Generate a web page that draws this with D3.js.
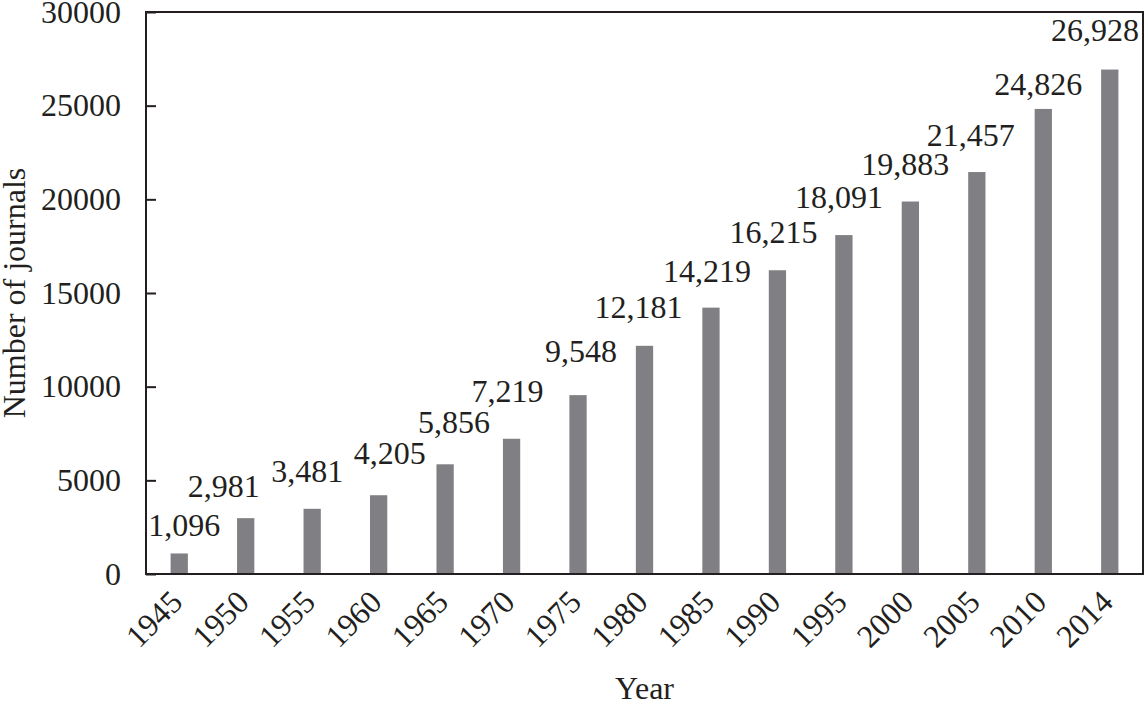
<!DOCTYPE html>
<html lang="en">

<head>
    <meta charset="UTF-8">
    <style>
        body { margin: 0; background: #fff; }
        text { font-family: "Liberation Serif", "Times New Roman", serif; fill: #231f20; }
    </style>
</head>

<body>
    <svg width="1145" height="703"></svg>
    <script src="https://d3js.org/d3.v7.min.js"></script>
    <script>
        // data
        let years = ["1945", "1950", "1955", "1960", "1965", "1970", "1975", "1980",
            "1985", "1990", "1995", "2000", "2005", "2010", "2014"]
        let journals = [1096, 2981, 3481, 4205, 5856, 7219, 9548, 12181,
            14219, 16215, 18091, 19883, 21457, 24826, 26928]
        let yTicks = [0, 5000, 10000, 15000, 20000, 25000, 30000]
        // hand placed label nudges [dx, dy] like in the original figure
        let labelNudge = [[9, 11], [-18, 7], [-1, 1], [15, -3], [13, -3], [0, -9], [7, -5], [-2, 0],
            [0, 2], [0, 1], [-1, 1], [-1, 1], [-2, 2], [-1, 14], [0, -1]]

        let data = years.map((y, i) => ({ year: y, value: journals[i], nudge: labelNudge[i] }))

        let margin = { left: 146, top: 12, right: 2, bottom: 129 }
        let width = 1145, height = 703
        let svg = d3.select("svg")

        let x = d3.scaleBand()
            .domain(years)
            .range([margin.left, width - margin.right])
            .paddingInner(0.74)
            .paddingOuter(0.37)

        let y = d3.scaleLinear()
            .domain([0, 30000])
            .range([height - margin.bottom, margin.top])

        // bars
        svg.append("g")
            .selectAll("rect")
            .data(data)
            .enter()
            .append("rect")
            .attr("x", d => x(d.year))
            .attr("y", d => y(d.value))
            .attr("width", x.bandwidth())
            .attr("height", d => y(0) - y(d.value))
            .attr("fill", "#808084")

        // value labels
        let fmt = d3.format(",")
        svg.append("g")
            .selectAll("text")
            .data(data)
            .enter()
            .append("text")
            .attr("font-size", 32)
            .attr("text-anchor", "middle")
            .attr("x", d => x(d.year) + x.bandwidth() / 2 - 4 + d.nudge[0])
            .attr("y", d => y(d.value) - 28 + d.nudge[1])
            .text(d => fmt(d.value))
            .each(function () {
                // keep the label inside the frame
                let w = this.getComputedTextLength()
                let cx = +d3.select(this).attr("x")
                let maxX = width - margin.right - 4 - w / 2
                if (cx > maxX) d3.select(this).attr("x", maxX)
            })

        // y axis (ticks inside)
        let yAxis = d3.axisLeft(y)
            .tickValues(yTicks)
            .tickSizeInner(-10)
            .tickSizeOuter(0)
            .tickPadding(25)
            .tickFormat(d3.format("d"))

        let gy = svg.append("g")
            .attr("transform", `translate(${margin.left},0)`)
            .call(yAxis)
        gy.select(".domain").remove()
        gy.selectAll("line").attr("stroke", "#231f20").attr("stroke-width", 2)
        gy.selectAll("text")
            .attr("font-size", 32)
            .attr("font-family", "Liberation Serif")
            .attr("fill", "#231f20")

        // x axis labels, rotated
        let xAxis = d3.axisBottom(x).tickSize(0).tickPadding(0)
        let gx = svg.append("g")
            .attr("transform", `translate(0,${height - margin.bottom})`)
            .call(xAxis)
        gx.select(".domain").remove()
        gx.selectAll("text")
            .attr("font-size", 32)
            .attr("font-family", "Liberation Serif")
            .attr("fill", "#231f20")
            .attr("text-anchor", "end")
            .attr("dy", 0)
            .attr("y", 0)
            .attr("transform", "translate(5,30) rotate(-45)")

        // frame
        svg.append("rect")
            .attr("x", margin.left)
            .attr("y", margin.top)
            .attr("width", width - margin.left - margin.right)
            .attr("height", height - margin.top - margin.bottom)
            .attr("fill", "none")
            .attr("stroke", "#231f20")
            .attr("stroke-width", 2)

        // axis titles
        svg.append("text")
            .attr("font-size", 32)
            .attr("text-anchor", "middle")
            .attr("x", (margin.left + width - margin.right) / 2)
            .attr("y", 699)
            .text("Year")

        svg.append("text")
            .attr("font-size", 32)
            .attr("text-anchor", "middle")
            .attr("transform", `translate(25,${(margin.top + height - margin.bottom) / 2}) rotate(-90)`)
            .text("Number of journals")
    </script>
</body>

</html>
